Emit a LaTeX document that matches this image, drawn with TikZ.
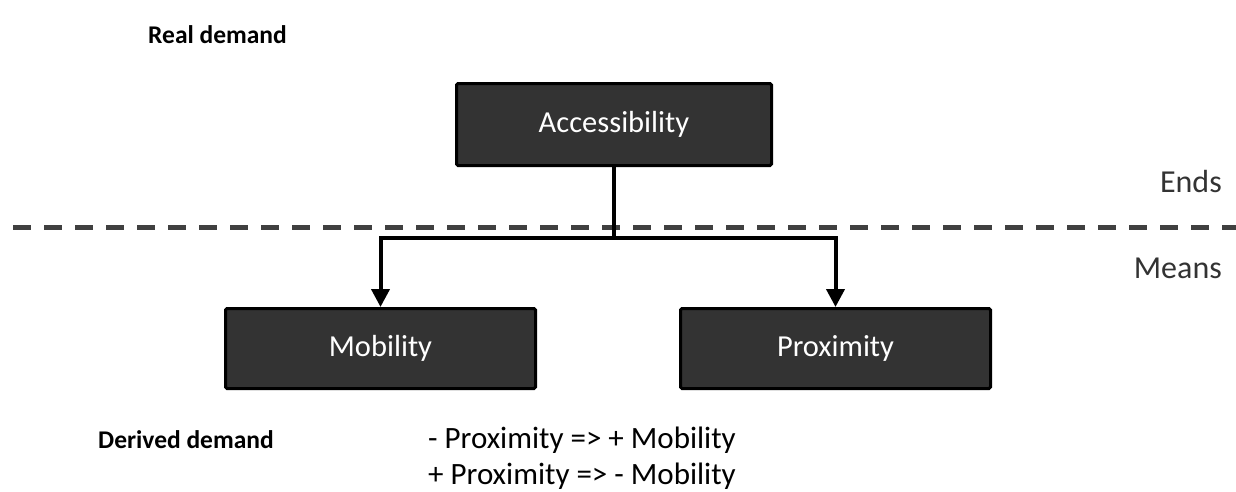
\documentclass[tikz,border=0pt]{standalone}
\usepackage{fontspec}
\setmainfont{Carlito}
\usetikzlibrary{arrows.meta}
\definecolor{boxgray}{HTML}{333333}
\definecolor{dashgray}{HTML}{404040}
\definecolor{sidegray}{HTML}{333333}
\begin{document}
\begin{tikzpicture}[x=1pt,y=-1pt,
  box/.style={draw=black, line width=3pt, fill=boxgray, rounded corners=1.5pt,
    inner sep=0pt, text=white, font=\fontsize{30.5}{36}\selectfont},
  conn/.style={draw=black, line width=4pt, line join=miter},
  arr/.style={-{Triangle[length=18pt,width=18pt]}},
  dashline/.style={draw=dashgray, line width=5pt, dash pattern=on 18pt off 13pt},
  lab/.style={inner sep=0pt, font=\bfseries\fontsize{25.5}{30}\selectfont},
  side/.style={inner sep=0pt, text=sidegray, font=\fontsize{32}{38}\selectfont},
  formula/.style={inner sep=0pt, font=\fontsize{31}{36}\selectfont}]
\useasboundingbox (0,0) rectangle (1236,491);
\node[box, minimum width=315pt, minimum height=82pt] (acc) at (614,124.5) {Accessibility};
\node[box, minimum width=310pt, minimum height=80pt] (mob) at (380.5,348.5) {Mobility};
\node[box, minimum width=310pt, minimum height=80pt] (prox) at (835.5,348.5) {Proximity};
\coordinate (dl) at (13,227);
\coordinate (dr) at (1236,227);
\draw[dashline] (dl) -- (dr);
\coordinate (br) at (acc.south |- 0,238);
\draw[conn] (acc.south) -- (br);
\draw[conn,arr] (br) -| (mob.north);
\draw[conn,arr] (br) -| (prox.north);
\node[lab, anchor=west] (real) at (148,35) {Real demand};
\node[side, anchor=east] (ends) at (1222,182) {Ends};
\node[side, anchor=east] (means) at (1222,268) {Means};
\node[lab, anchor=west] (derived) at (98,440) {Derived demand};
\node[formula, anchor=west] (f1) at (428,440) {- Proximity => + Mobility};
\node[formula, anchor=west] (f2) at (428,476) {+ Proximity => - Mobility};
\end{tikzpicture}
\end{document}
